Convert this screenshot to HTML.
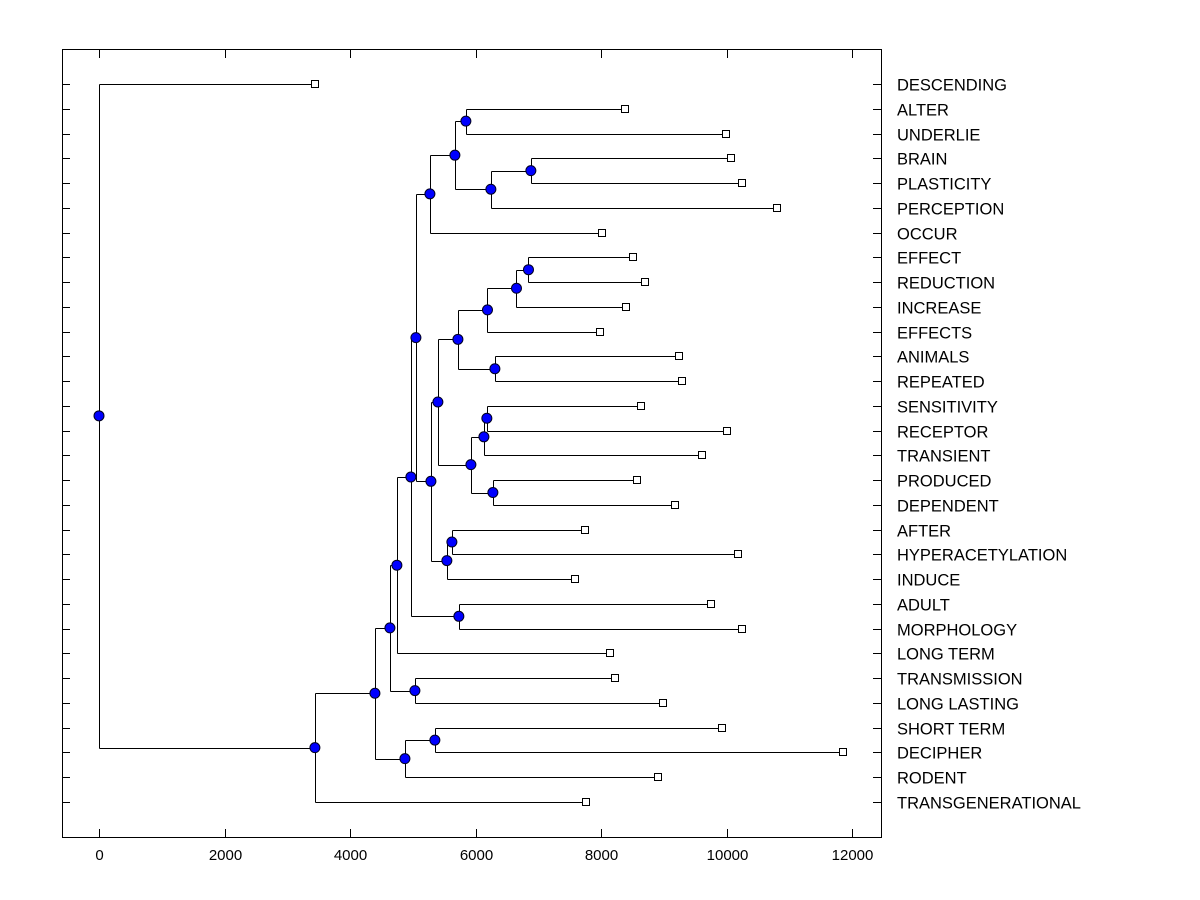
<!DOCTYPE html>
<html><head><meta charset="utf-8"><style>
html,body{margin:0;padding:0;background:#fff;}
svg{display:block;font-family:"Liberation Sans",Arial,sans-serif;}
</style></head><body>
<svg id="chart" width="1200" height="900" viewBox="0 0 1200 900">
<rect x="62.5" y="49.5" width="819" height="788" fill="none" stroke="#000" stroke-width="1"/>
<g id="axes"></g><g id="links"></g><g id="marks"></g><g id="labels"></g>
</svg>
<script>
// leaf labels (top to bottom) and their merge heights
const leafLabels = ["DESCENDING","ALTER","UNDERLIE","BRAIN","PLASTICITY","PERCEPTION","OCCUR","EFFECT","REDUCTION","INCREASE","EFFECTS","ANIMALS","REPEATED","SENSITIVITY","RECEPTOR","TRANSIENT","PRODUCED","DEPENDENT","AFTER","HYPERACETYLATION","INDUCE","ADULT","MORPHOLOGY","LONG TERM","TRANSMISSION","LONG LASTING","SHORT TERM","DECIPHER","RODENT","TRANSGENERATIONAL"];
const leafValues = [3439,8376,9984,10064,10239,10796,8010,8503,8694,8392,7978,9236,9283,8631,10000,9602,8567,9172,7739,10175,7580,9745,10239,8137,8217,8981,9920,11847,8901,7755];
// internal nodes: name, value, children (leaf label or node name)
const nodeNames = ["root","A","B","C","D","E","F","G","H","I","J","K","M","N","O","P","L","R","S","Q","T","V","W","X","Y","U","Z","AA","AB"];
const nodeValues = [0,3439,4395,4634,4873,5350,4745,5032,4968,5048,5732,5271,5669,5844,6242,6879,5287,5541,5621,5398,5717,6188,6306,6650,6841,5924,6131,6274,6178];
const nodeChildren = [["DESCENDING","A"],["B","TRANSGENERATIONAL"],["C","D"],["F","G"],["E","RODENT"],["SHORT TERM","DECIPHER"],["H","LONG TERM"],["TRANSMISSION","LONG LASTING"],["I","J"],["K","L"],["ADULT","MORPHOLOGY"],["M","OCCUR"],["N","O"],["ALTER","UNDERLIE"],["P","PERCEPTION"],["BRAIN","PLASTICITY"],["Q","R"],["S","INDUCE"],["AFTER","HYPERACETYLATION"],["T","U"],["V","W"],["X","EFFECTS"],["ANIMALS","REPEATED"],["Y","INCREASE"],["EFFECT","REDUCTION"],["Z","AA"],["AB","TRANSIENT"],["PRODUCED","DEPENDENT"],["SENSITIVITY","RECEPTOR"]];
const xTicks = [0,2000,4000,6000,8000,10000,12000];

const NS="http://www.w3.org/2000/svg";
const xScale = v => 99 + v*0.06278;
const yScale = i => 84 + i*(802-84)/(leafLabels.length-1);
function mk(tag, attrs, parent){const e=document.createElementNS(NS,tag);for(const k in attrs)e.setAttribute(k,attrs[k]);document.getElementById(parent).appendChild(e);return e;}

const axisG="axes";
xTicks.forEach(t=>{
  const x=Math.round(xScale(t))+0.5;
  let e=mk("line",{x1:x,x2:x,y1:829,y2:837,stroke:"#000"},axisG);
  
  
  e=mk("line",{x1:x,x2:x,y1:50,y2:58,stroke:"#000"},axisG);
  
  
  e=mk("text",{x:x,y:860,"text-anchor":"middle","font-size":"15"},axisG);
  e.textContent=t;
  
  
});
leafLabels.forEach((l,i)=>{
  const y=Math.round(yScale(i))+0.5;
  let e=mk("line",{x1:62,x2:70,y1:y,y2:y,stroke:"#000"},axisG);
  
  
  e=mk("line",{x1:873,x2:881,y1:y,y2:y,stroke:"#000"},axisG);
  
  
  e=mk("text",{x:897,y:y+6,"font-size":"16.5"},"labels");
  e.textContent=l;
  
  
});

// compute positions
const pos={};
leafLabels.forEach((l,i)=>{pos[l]={x:xScale(leafValues[i]),y:yScale(i)};});
function nodePos(n){
  if(pos[n])return pos[n];
  const idx=nodeNames.indexOf(n);
  const ch=nodeChildren[idx].map(nodePos);
  pos[n]={x:xScale(nodeValues[idx]),y:(ch[0].y+ch[1].y)/2};
  return pos[n];
}
nodeNames.forEach(nodePos);
nodeNames.forEach((n,idx)=>{
  const p=pos[n];const cs=nodeChildren[idx].map(c=>pos[c]);
  const px=Math.round(p.x)+0.5;
  let e=mk("line",{x1:px,x2:px,y1:Math.round(cs[0].y)+0.5,y2:Math.round(cs[1].y)+0.5,stroke:"#000"},"links");
  
  
  cs.forEach(c=>{
    const cy=Math.round(c.y)+0.5;
    const l=mk("line",{x1:px,x2:c.x,y1:cy,y2:cy,stroke:"#000"},"links");
    
    
  });
  e=mk("circle",{cx:p.x,cy:p.y,r:5,fill:"#0000ff",stroke:"#000020","stroke-width":"1"},"marks");
  
  
});
leafLabels.forEach((l,i)=>{
  const p=pos[l];
  const e=mk("rect",{x:Math.round(p.x)-3.5,y:Math.round(p.y)-3.5,width:7,height:7,fill:"#fff",stroke:"#000"},"marks");
  
  
});
</script>
</body></html>
